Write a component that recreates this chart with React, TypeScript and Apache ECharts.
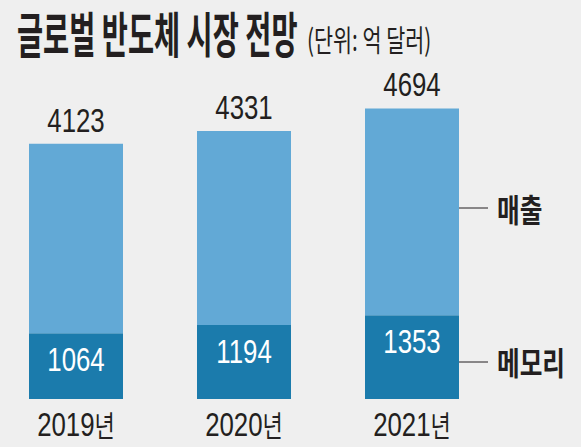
import React, { useEffect, useRef } from "react";
import * as echarts from "echarts";

const years = ["2019", "2020", "2021"];
const yearSuffix = "년";
const totalSales = [4123, 4331, 4694];
const memorySales = [1064, 1194, 1353];
const titleText = "글로벌 반도체 시장 전망";
const unitText = "(단위: 억 달러)";
const salesLabel = "매출";
const memoryLabel = "메모리";

const NUM_FONT = "'Liberation Sans', Arial, sans-serif";
const KR_FONT = "'Noto Sans CJK KR', 'Noto Sans', sans-serif";
const OFF = 8; // chart canvas starts 8px left of the window
const NUM_SCALE = 0.76;

export default function App() {
  const ref = useRef<HTMLDivElement>(null);
  useEffect(() => {
    document.body.style.margin = "0";
    const chart = echarts.init(ref.current!, null, { renderer: "svg" });
    const rest = totalSales.map((t, i) => t - memorySales[i]);
    const labelData = totalSales.map((t, i) => [i, t, memorySales[i]]);
    chart.setOption({
      animation: false,
      backgroundColor: "#efefef",
      grid: { left: 0, width: 504, top: 89.5, bottom: 48 },
      xAxis: {
        type: "category",
        data: years,
        axisLine: { show: false },
        axisTick: { show: false },
        axisLabel: { show: false },
      },
      yAxis: { type: "value", min: 0, max: 5000, show: false, splitLine: { show: false } },
      series: [
        {
          type: "bar",
          stack: "s",
          data: memorySales,
          barWidth: 94,
          itemStyle: { color: "#1b7bac" },
        },
        {
          type: "bar",
          stack: "s",
          data: rest,
          barWidth: 94,
          itemStyle: { color: "#62a9d6" },
        },
        {
          type: "custom",
          coordinateSystem: "cartesian2d",
          data: labelData,
          encode: { x: 0, y: 1 },
          z: 10,
          silent: true,
          renderItem: (params: any, api: any) => {
            const i = api.value(0);
            const total = api.value(1);
            const mem = api.value(2);
            const top = api.coord([i, total]);
            const memTop = api.coord([i, mem]);
            const base = api.coord([i, 0]);
            return {
              type: "group",
              children: [
                {
                  type: "text",
                  x: top[0],
                  y: top[1] - 24,
                  scaleX: NUM_SCALE,
                  style: {
                    text: String(total),
                    fontFamily: NUM_FONT,
                    fontSize: 34,
                    fill: "#231f20",
                    align: "center",
                    verticalAlign: "middle",
                  },
                },
                {
                  type: "text",
                  x: memTop[0],
                  y: memTop[1] + 26,
                  scaleX: NUM_SCALE,
                  style: {
                    text: String(mem),
                    fontFamily: NUM_FONT,
                    fontSize: 34,
                    fill: "#ffffff",
                    align: "center",
                    verticalAlign: "middle",
                  },
                },
                {
                  type: "text",
                  x: base[0],
                  y: base[1] + 25.5,
                  scaleX: NUM_SCALE,
                  style: {
                    text: `{y|${years[params.dataIndex]}}{n|${yearSuffix}}`,
                    align: "center",
                    verticalAlign: "middle",
                    rich: {
                      y: { fontFamily: NUM_FONT, fontSize: 34, fill: "#231f20" },
                      n: { fontFamily: KR_FONT, fontSize: 29, fill: "#231f20" },
                    },
                  },
                },
              ],
            };
          },
        },
      ],
      graphic: [
        {
          type: "text",
          x: 17 + OFF,
          y: 8,
          scaleY: 1.72,
          style: {
            text: titleText,
            fontFamily: KR_FONT,
            fontWeight: "bold",
            fontSize: 28.4,
            fill: "#231f20",
            textVerticalAlign: "top",
          },
        },
        {
          type: "text",
          x: 307 + OFF,
          y: 23,
          scaleX: 0.69,
          style: {
            text: unitText,
            fontFamily: KR_FONT,
            fontSize: 30,
            fill: "#231f20",
            textVerticalAlign: "top",
          },
        },
        {
          type: "line",
          shape: { x1: 443 + OFF, y1: 208, x2: 488 + OFF, y2: 208 },
          style: { stroke: "#231f20", lineWidth: 1 },
        },
        {
          type: "line",
          shape: { x1: 443 + OFF, y1: 362, x2: 488 + OFF, y2: 362 },
          style: { stroke: "#231f20", lineWidth: 1 },
        },
        {
          type: "text",
          x: 497 + OFF,
          y: 192,
          scaleX: 0.77,
          style: {
            text: salesLabel,
            fontFamily: KR_FONT,
            fontWeight: "bold",
            fontSize: 32,
            fill: "#231f20",
            textVerticalAlign: "top",
          },
        },
        {
          type: "text",
          x: 497 + OFF,
          y: 345,
          scaleX: 0.77,
          style: {
            text: memoryLabel,
            fontFamily: KR_FONT,
            fontWeight: "bold",
            fontSize: 32,
            fill: "#231f20",
            textVerticalAlign: "top",
          },
        },
      ],
    });
    return () => chart.dispose();
  }, []);
  return (
    <div style={{ width: 581, height: 447, overflow: "hidden", position: "relative" }}>
      <div ref={ref} style={{ position: "absolute", left: -OFF, top: 0, width: 581 + OFF, height: 447 }} />
    </div>
  );
}
